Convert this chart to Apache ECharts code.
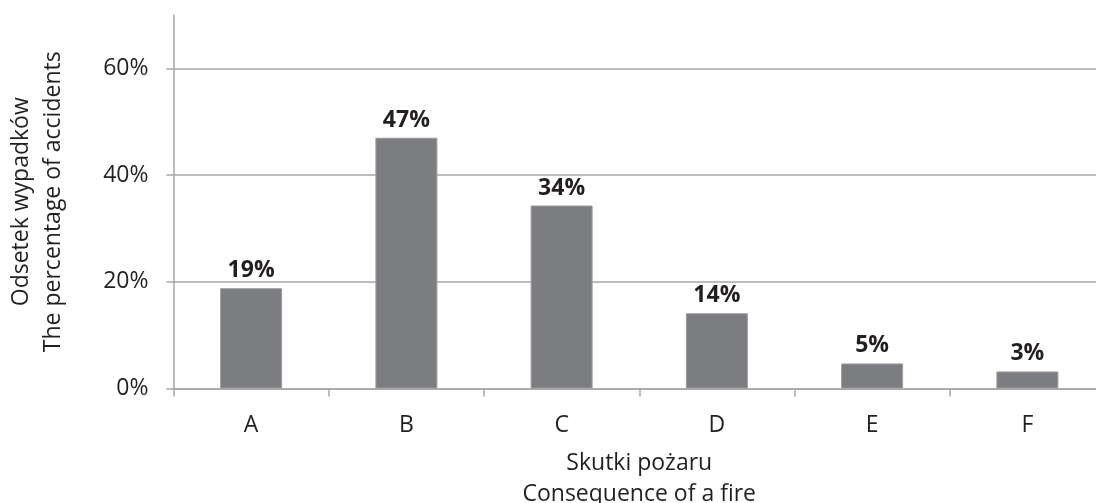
<!DOCTYPE html>
<html>
<head>
<meta charset="utf-8">
<script src="https://cdn.jsdelivr.net/npm/echarts@6/dist/echarts.min.js"></script>
<style>
  html, body { margin: 0; padding: 0; background: #fff; }
  #chart { width: 1096px; height: 503px; }
</style>
</head>
<body>
<div id="chart"></div>
<script>
// kategorie skutków pożaru
var categories = ['A', 'B', 'C', 'D', 'E', 'F'];
// odsetek wypadków (%)
var shares = [18.8, 47.0, 34.3, 14.1, 4.7, 3.2];
var yMax = 70;
var yStep = 20;

var textColor = '#231f20';
var lineColor = '#a6a6a6';
var font = '"Open Sans", "Noto Sans", sans-serif';

var chart = echarts.init(document.getElementById('chart'));

var option = {
    backgroundColor: '#fff',
    animation: false,
    grid: {
        left: 173.5,
        top: 15,
        right: -9,
        bottom: 114.5,
        containLabel: false,
        outerBoundsMode: 'none'
    },
    xAxis: {
        type: 'category',
        data: categories,
        name: 'Skutki pożaru\nConsequence of a fire',
        nameLocation: 'middle',
        nameGap: 59,
        nameTextStyle: {
            color: textColor,
            fontFamily: font,
            fontSize: 23,
            lineHeight: 31
        },
        axisLine: { lineStyle: { color: lineColor, width: 1.5 } },
        axisTick: { show: true, length: 8, lineStyle: { color: lineColor, width: 1.5 } },
        axisLabel: {
            color: textColor,
            fontFamily: font,
            fontSize: 23,
            margin: 25
        }
    },
    yAxis: {
        type: 'value',
        min: 0,
        max: yMax,
        interval: yStep,
        name: 'Odsetek wypadków\nThe percentage of accidents',
        nameLocation: 'middle',
        nameGap: 104,
        nameTextStyle: {
            color: textColor,
            fontFamily: font,
            fontSize: 23,
            lineHeight: 32
        },
        axisLine: { show: true, lineStyle: { color: lineColor, width: 1.5 } },
        axisTick: { show: true, length: 7, lineStyle: { color: lineColor, width: 1.5 } },
        axisLabel: {
            color: textColor,
            fontFamily: font,
            fontSize: 23,
            margin: 25,
            showMaxLabel: false,
            formatter: function (v) { return v + '%'; }
        },
        splitLine: {
            show: true,
            showMaxLine: false,
            lineStyle: { color: lineColor, width: 1.5 }
        }
    },
    series: [{
        type: 'bar',
        data: shares,
        barWidth: 62,
        itemStyle: {
            color: '#7c7d81',
            borderColor: '#9c9c9e',
            borderWidth: 1
        },
        label: {
            show: true,
            position: 'top',
            distance: 6,
            color: textColor,
            fontFamily: font,
            fontWeight: 'bold',
            fontSize: 23,
            formatter: function (p) { return Math.round(p.value) + '%'; }
        }
    }]
};

chart.setOption(option);
</script>
</body>
</html>
